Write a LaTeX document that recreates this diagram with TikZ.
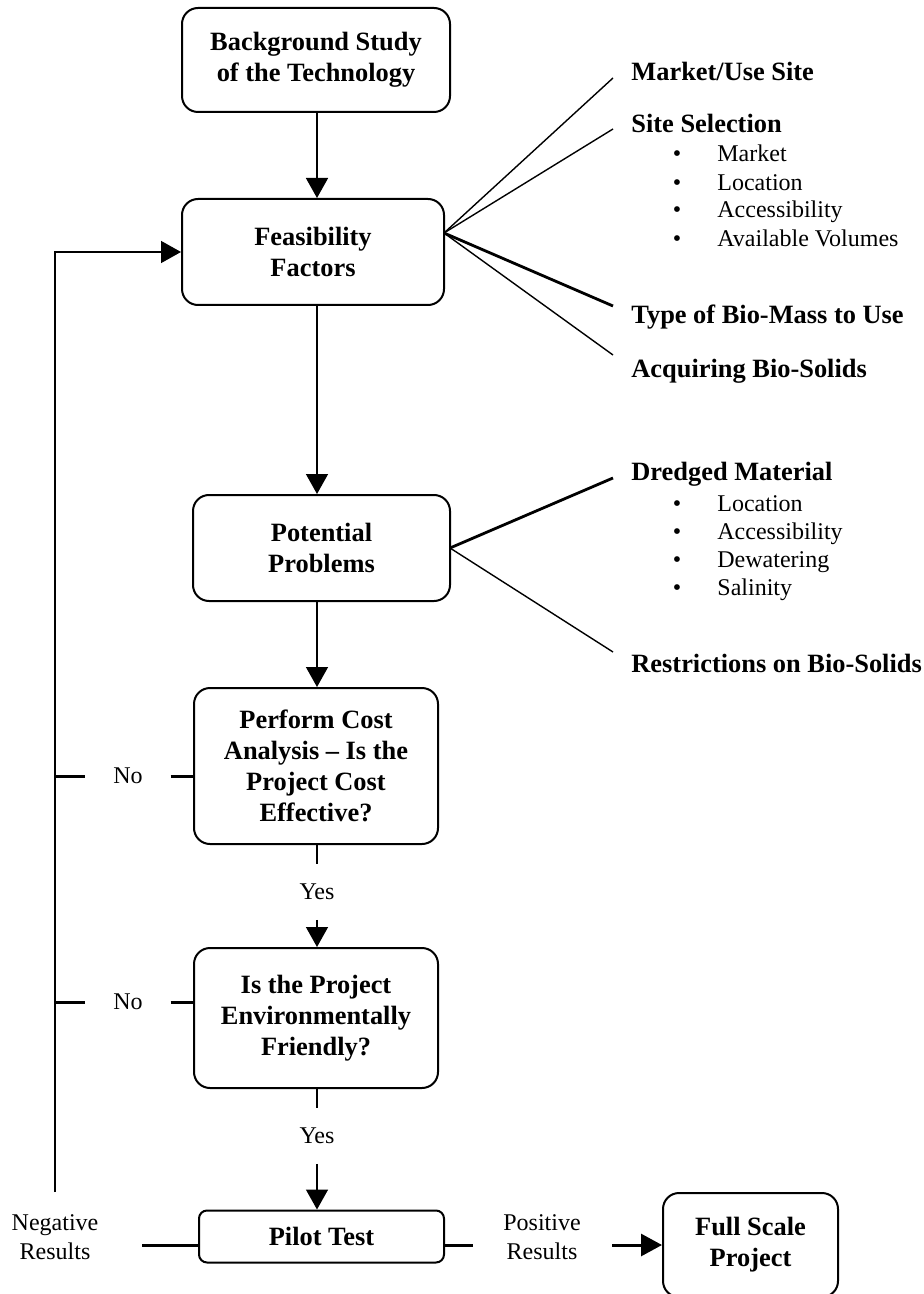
\documentclass[tikz,border=0pt]{standalone}
\usepackage{fontspec}
\setmainfont{Liberation Serif}
\usetikzlibrary{arrows.meta}
\usetikzlibrary{calc}

\begin{document}
\begin{tikzpicture}[x=0.5pt, y=-0.5pt,
	every node/.style={inner sep=0pt},
	box/.style={draw, line width=1pt, rounded corners=8pt, align=center,
		font=\fontsize{13.2}{15.5}\selectfont\bfseries},
	head/.style={anchor=base west, font=\fontsize{13.2}{15.5}\selectfont\bfseries},
	txt/.style={align=center, font=\fontsize{12}{14.5}\selectfont},
	item/.style={anchor=base west, font=\fontsize{12}{14}\selectfont},
	dot/.style={anchor=base, font=\fontsize{12}{14}\selectfont},
	yeslbl/.style={txt, outer ysep=10pt},
	nolbl/.style={txt, outer xsep=14pt},
	flow/.style={line width=0.75pt, -{Triangle[width=11pt,length=10pt]}},
	tick/.style={line width=1.5pt},
	fan/.style={line width=0.7pt},
	fanthick/.style={line width=1.4pt}]
	\useasboundingbox (0,0) rectangle (923,1294);

	% main column
	\begin{scope}
		\node[box, minimum width=134pt, minimum height=52pt] (bg) at (316,60) {Background Study\\of the Technology};
		\node[box, minimum width=131pt, minimum height=53pt] (feas) at (313,252) {Feasibility\\Factors};
		\node[box, minimum width=128.5pt, minimum height=53pt] (prob) at (321.5,548) {Potential\\Problems};
		\node[box, minimum width=122pt, minimum height=78pt] (cost) at (316,766) {Perform Cost\\Analysis -- Is the\\Project Cost\\Effective?};
		\node[box, minimum width=122pt, minimum height=70pt] (env) at (316,1018) {Is the Project\\Environmentally\\Friendly?};
		\node[box, rounded corners=4pt, minimum width=122.5pt, minimum height=26pt] (pilot) at (321.5,1236.5) {\raisebox{-2.5pt}{Pilot Test}};
		\node[box, minimum width=87.5pt, minimum height=52pt] (full) at (750.5,1245) {Full Scale\\Project};
	\end{scope}

	% labels
	\node[yeslbl] (yes1) at (317,892) {Yes};
	\node[yeslbl] (yes2) at (317,1136) {Yes};
	\node[nolbl] (no1) at (128,776) {No};
	\node[nolbl] (no2) at (128,1002) {No};
	\node[txt] (neg) at (55,1237) {Negative\\Results};
	\node[txt] (pos) at (542,1237) {Positive\\Results};

	\coordinate (loopbot) at (55,1192);
	\coordinate (negend) at (142,1245);
	\coordinate (posend) at (473,1245);
	\coordinate (fullstart) at (612,1245);

	% connectors
	\draw[flow] (bg.south -| 317,0) -- (317,0 |- feas.north);
	\draw[flow] (feas.south -| 317,0) -- (317,0 |- prob.north);
	\draw[flow] (prob.south -| 317,0) -- (317,0 |- cost.north);
	\draw[line width=0.75pt] (cost.south -| yes1) -- (yes1.north);
	\draw[flow] (yes1.south) -- (yes1.south |- env.north);
	\draw[line width=0.75pt] (env.south -| yes2) -- (yes2.north);
	\draw[flow] (yes2.south) -- (yes2.south |- pilot.north);

	% feedback loop
	\draw[flow] (loopbot) -- (loopbot |- feas.west) -- (feas.west);
	\draw[tick] (loopbot |- no1.west) -- (no1.west);
	\draw[tick] (no1.east) -- (no1.east -| cost.west);
	\draw[tick] (loopbot |- no2.west) -- (no2.west);
	\draw[tick] (no2.east) -- (no2.east -| env.west);
	\draw[tick] (negend) -- (negend -| pilot.west);
	\draw[tick] (posend -| pilot.east) -- (posend);
	\draw[tick, -{Triangle[width=11pt,length=10.5pt]}] (fullstart) -- (fullstart -| full.west);

	% feasibility factors
	\coordinate (ffan) at (444,233);
	\coordinate (f1) at (613,78);
	\coordinate (f2) at (613,129);
	\coordinate (f3) at (613,306);
	\coordinate (f4) at (613,355);
	\draw[fan] (ffan) -- (f1);
	\draw[fan] (ffan) -- (f2);
	\draw[fanthick] (ffan) -- (f3);
	\draw[fan] (ffan) -- (f4);
	\node[head] (market) at (631,81) {Market/Use Site};
	\node[head] (site) at (631,133) {Site Selection};
	\foreach \name/\y [count=\i] in {Market/162, Location/191, Accessibility/218, Available Volumes/247} {
		\node[dot] (sb\i) at (677,\y) {•};
		\node[item] (si\i) at (717,\y) {\name};
	}
	\node[head] (biomass) at (631,324) {Type of Bio-Mass to Use};
	\node[head] (acquire) at (631,378) {Acquiring Bio-Solids};

	% potential problems
	\coordinate (pfan) at (450,548);
	\coordinate (p1) at (613,478);
	\coordinate (p2) at (613,652);
	\draw[fanthick] (pfan) -- (p1);
	\draw[fan] (pfan) -- (p2);
	\node[head] (dredged) at (631,480) {Dredged Material};
	\foreach \name/\y [count=\i] in {Location/511, Accessibility/539, Dewatering/567, Salinity/595} {
		\node[dot] (db\i) at (677,\y) {•};
		\node[item] (di\i) at (717,\y) {\name};
	}
	\node[head] (restrict) at (631,672) {Restrictions on Bio-Solids};
\end{tikzpicture}
\end{document}
